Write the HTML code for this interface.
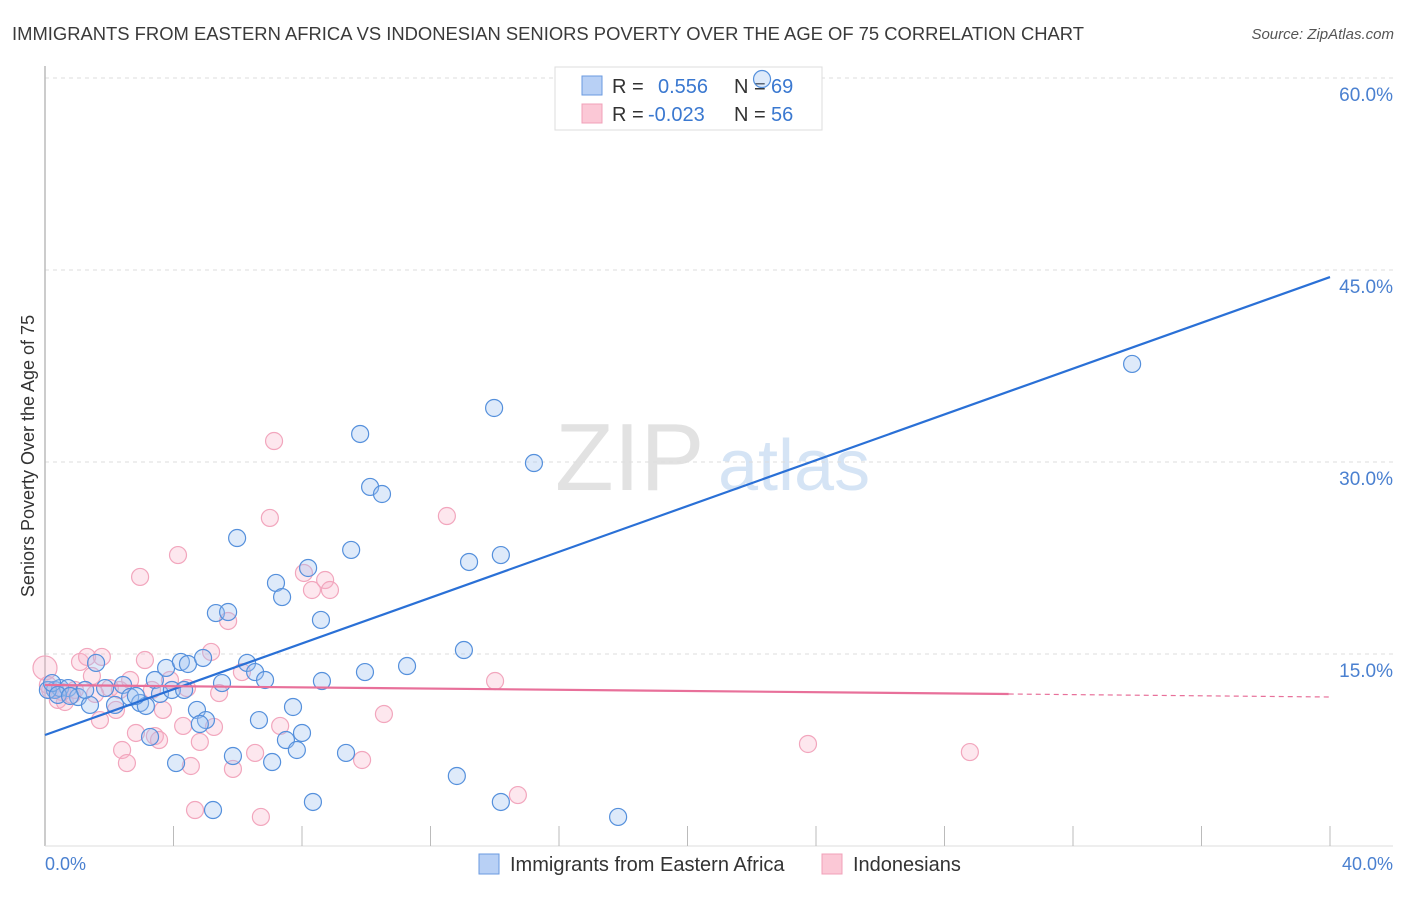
<!DOCTYPE html>
<html><head><meta charset="utf-8"><style>
body{margin:0;background:#fff;font-family:"Liberation Sans",sans-serif;}
svg text{font-family:"Liberation Sans",sans-serif;}
</style></head><body>
<svg width="1406" height="892" xmlns="http://www.w3.org/2000/svg" id="chart">
<text x="12" y="40" font-size="18" fill="#3a3a3a" textLength="1072" lengthAdjust="spacingAndGlyphs">IMMIGRANTS FROM EASTERN AFRICA VS INDONESIAN SENIORS POVERTY OVER THE AGE OF 75 CORRELATION CHART</text>
<text x="1394" y="39" font-size="15" fill="#555" font-style="italic" text-anchor="end">Source: ZipAtlas.com</text>
<g>
<text x="555" y="490" font-size="96" fill="#e2e2e2" font-family="Liberation Serif, serif">ZIP</text>
<text x="718" y="490" font-size="72" fill="#d5e4f5">atlas</text>
</g>
<g id="grid"></g>
<line x1="45" y1="66" x2="45" y2="846" stroke="#bbb" stroke-width="1.5"/>
<line x1="45" y1="846" x2="1393" y2="846" stroke="#ddd" stroke-width="1"/>
<g id="xticks"></g>
<text transform="translate(34,456) rotate(-90)" font-size="18" fill="#333" text-anchor="middle">Seniors Poverty Over the Age of 75</text>
<text x="45" y="870" font-size="18" fill="#4a80d0">0.0%</text>
<text x="1393" y="870" font-size="18" fill="#4a80d0" text-anchor="end">40.0%</text>
<g>
<rect x="555" y="67" width="267" height="63" fill="#fff" stroke="#ddd"/>
<rect x="582" y="76" width="20" height="19" fill="#b8d0f5" stroke="#6a9ae0"/>
<rect x="582" y="104" width="20" height="19" fill="#fbc8d6" stroke="#f0a0b8"/>
<text x="612" y="93" font-size="20" fill="#333">R = <tspan fill="#3a78d0" x="658">0.556</tspan><tspan x="734">N =</tspan><tspan fill="#3a78d0" x="771">69</tspan></text>
<text x="612" y="121" font-size="20" fill="#333">R = <tspan fill="#3a78d0" x="648">-0.023</tspan><tspan x="734">N =</tspan><tspan fill="#3a78d0" x="771">56</tspan></text>
</g>
<g id="pts"></g>
<g id="lines"></g>
<g>
<rect x="479" y="854" width="20" height="20" fill="#b8d0f5" stroke="#6a9ae0"/>
<text x="510" y="871" font-size="20" fill="#333">Immigrants from Eastern Africa</text>
<rect x="822" y="854" width="20" height="20" fill="#fbc8d6" stroke="#f0a0b8"/>
<text x="853" y="871" font-size="20" fill="#333">Indonesians</text>
</g>
</svg>
<script>
const blueX=[0.31,0.47,0.72,1.03,1.40,1.59,1.87,2.18,2.43,2.65,2.96,3.14,3.27,3.42,3.58,3.77,3.95,4.08,4.23,4.45,4.73,4.92,5.01,5.23,5.32,5.70,5.51,5.85,5.98,6.29,6.54,6.66,6.85,7.07,7.19,7.38,7.50,7.72,7.84,8.00,8.19,8.34,8.59,8.62,9.37,9.53,9.81,9.96,10.12,10.49,11.27,12.82,13.04,13.20,13.98,14.19,14.19,15.22,17.84,22.32,33.84,0.09,0.22,0.40,0.78,1.25,2.83,4.33,4.82];
const blueY=[12.19,12.34,12.34,11.64,11.02,14.30,12.34,11.02,12.58,11.64,11.17,10.94,8.52,12.97,11.88,13.91,12.19,6.48,14.38,14.22,10.63,14.69,9.84,2.81,18.20,18.28,12.73,7.03,24.06,14.30,13.59,9.84,12.97,6.56,20.55,19.45,8.28,10.86,7.50,8.83,21.72,3.44,17.66,12.89,7.27,23.13,32.19,13.59,28.05,27.50,14.06,5.47,15.31,22.19,34.22,3.44,22.73,29.92,2.27,59.92,37.66,12.19,12.73,11.80,11.72,12.19,11.72,12.19,9.53];
const pinkX=[0,0.16,0.40,0.62,0.84,1.09,1.31,1.46,1.71,1.77,2.02,2.21,2.33,2.40,2.55,2.65,2.83,2.96,3.11,3.33,3.42,3.55,3.67,3.89,4.14,4.30,4.42,4.54,4.67,4.82,5.17,5.26,5.42,5.70,5.85,6.13,6.54,6.72,7.00,7.13,7.32,8.06,8.31,8.72,8.87,9.87,10.55,12.51,14.01,14.72,23.75,28.79,0.09,0.53,1.56,0.93];
const pinkY=[13.91,12.19,11.41,11.25,11.80,14.38,14.77,13.28,9.84,14.77,12.34,10.63,12.19,7.50,6.48,12.97,8.83,21.02,14.53,12.19,8.59,8.28,10.63,12.97,22.73,9.38,12.34,6.25,2.81,8.13,15.16,9.30,11.95,17.58,6.02,13.59,7.27,2.27,25.63,31.64,9.38,21.33,20.00,20.78,20.00,6.72,10.31,25.78,12.89,3.98,7.97,7.34,12.58,12.03,11.88,12.19];
const blueLine=[8.67,44.45];
const pinkLine=[12.58,11.64];
const pinkSolidEnd=30;
const yTicks=[15,30,45,60];
const yTickLabels=["15.0%","30.0%","45.0%","60.0%"];
const xTicks=[4,8,12,16,20,24,28,32,36,40];
const ns="http://www.w3.org/2000/svg";
const X=v=>45+v*32.125, Y=v=>846-v*12.8;
function mk(t,a,p){const e=document.createElementNS(ns,t);for(const k in a)e.setAttribute(k,a[k]);p.appendChild(e);return e;}
const grid=document.getElementById('grid');
yTicks.forEach((t,i)=>{
 const l=mk('line',{x1:45,x2:1393,y1:Y(t),y2:Y(t),stroke:'#ddd','stroke-dasharray':'4,4'},grid);
 
 
 const tx=mk('text',{x:1393,y:Y(t)+23,'font-size':19,fill:'#4a80d0','text-anchor':'end'},grid);
 tx.textContent=yTickLabels[i];
 
 
});
const xt=document.getElementById('xticks');
xTicks.forEach(t=>{const l=mk('line',{x1:X(t),x2:X(t),y1:826,y2:846,stroke:'#bbb'},xt);
 
 });
const pts=document.getElementById('pts');
pinkX.forEach((x,i)=>{const c=mk('circle',{cx:X(x),cy:Y(pinkY[i]),r:i==0?12:8.5,fill:'rgba(248,175,198,0.3)',stroke:'#f2a6bd','stroke-width':1.2},pts);
 
 });
blueX.forEach((x,i)=>{const c=mk('circle',{cx:X(x),cy:Y(blueY[i]),r:8.5,fill:'rgba(160,196,240,0.35)',stroke:'#5590dc','stroke-width':1.2},pts);
 
 });
const lines=document.getElementById('lines');
const bl=mk('line',{x1:X(0),y1:Y(blueLine[0]),x2:X(40),y2:Y(blueLine[1]),stroke:'#2a70d6','stroke-width':2.2},lines);


const pe=pinkLine[0]+(pinkLine[1]-pinkLine[0])*pinkSolidEnd/40;
const pl=mk('line',{x1:X(0),y1:Y(pinkLine[0]),x2:X(pinkSolidEnd),y2:Y(pe),stroke:'#e8709a','stroke-width':2.2},lines);


const pd=mk('line',{x1:X(pinkSolidEnd),y1:Y(pe),x2:X(40),y2:Y(pinkLine[1]),stroke:'#e8709a','stroke-width':1.2,'stroke-dasharray':'5,4'},lines);


</script>
</body></html>
